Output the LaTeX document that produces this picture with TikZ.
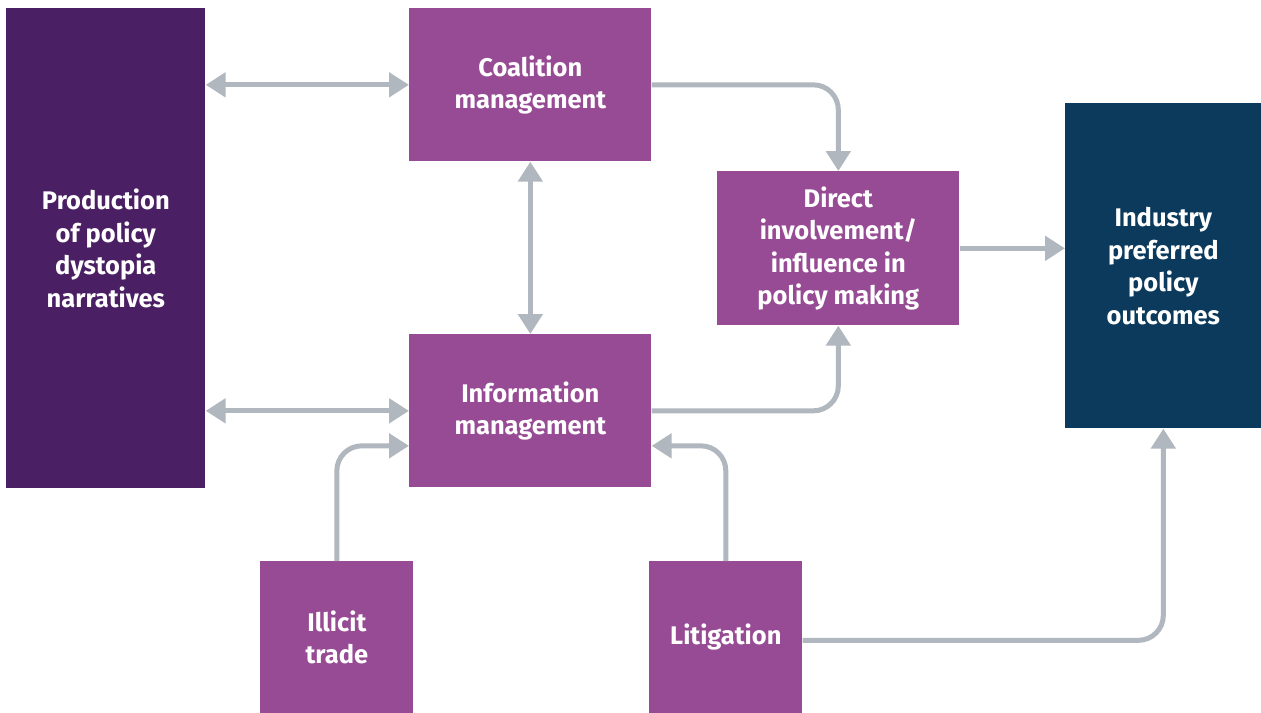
\documentclass[tikz,border=0pt]{standalone}
\usepackage{fontspec}
\setmainfont{Fira Sans}
\usetikzlibrary{positioning,arrows.meta}
\definecolor{darkplum}{HTML}{4A1F63}
\definecolor{plum}{HTML}{974B94}
\definecolor{navy}{HTML}{0B3A5C}
\definecolor{linkgrey}{HTML}{B1B7BE}

\begin{document}
\begin{tikzpicture}[%
    x=0.02cm,
    y=-0.02cm,
    >={Triangle[length=0.4cm,width=0.48cm]},
    box/.style={%
      rectangle,
      fill=plum,
      text=white,
      inner sep=0pt,
      anchor=north west,
      align=center,
      font=\bfseries\fontsize{14.5}{18.5}\selectfont
    },
    link/.style={%
      draw=linkgrey,
      line width=0.1cm,
      rounded corners=0.5cm
    }
  ]
    \useasboundingbox (0,0) rectangle (1261,713);

    \node[box, fill=darkplum, minimum width=3.98cm, minimum height=9.6cm] (prod) at (6,8)
      {Production\\of policy\\dystopia\\narratives};
    \node[box, minimum width=4.84cm, minimum height=3.06cm] (coal) at (409,8)
      {Coalition\\management};
    \node[box, minimum width=4.84cm, minimum height=3.06cm] (info) at (409,334)
      {Information\\management};
    \node[box, minimum width=4.84cm, minimum height=3.08cm] (direct) at (717,171)
      {Direct\\involvement/\\influence in\\policy making};
    \node[box, fill=navy, minimum width=3.92cm, minimum height=6.5cm] (industry) at (1065,103)
      {Industry\\preferred\\policy\\outcomes};
    \node[box, minimum width=3.06cm, minimum height=3.04cm] (illicit) at (260,561)
      {Illicit\\trade};
    \node[box, minimum width=3.06cm, minimum height=3.04cm] (litig) at (649,561)
      {Litigation};

    \draw[link, <->] (prod.east |- coal.west) -- (coal.west);
    \draw[link, <->] (prod.east |- info.west) -- (info.west);
    \draw[link, <->] (coal.south) -- (info.north);
    \draw[link, ->] (coal.east) -| (direct.north);
    \draw[link, ->] (info.east) -| (direct.south);
    \draw[link, ->] (direct.east) -- (direct.east -| industry.west);
    \draw[link, ->] (illicit.north) |- ([yshift=-0.7cm]info.west);
    \draw[link, ->] (litig.north) |- ([yshift=-0.7cm]info.east);
    \draw[link, ->] ([yshift=-0.06cm]litig.east) -| (industry.south);
  \end{tikzpicture}
\end{document}
